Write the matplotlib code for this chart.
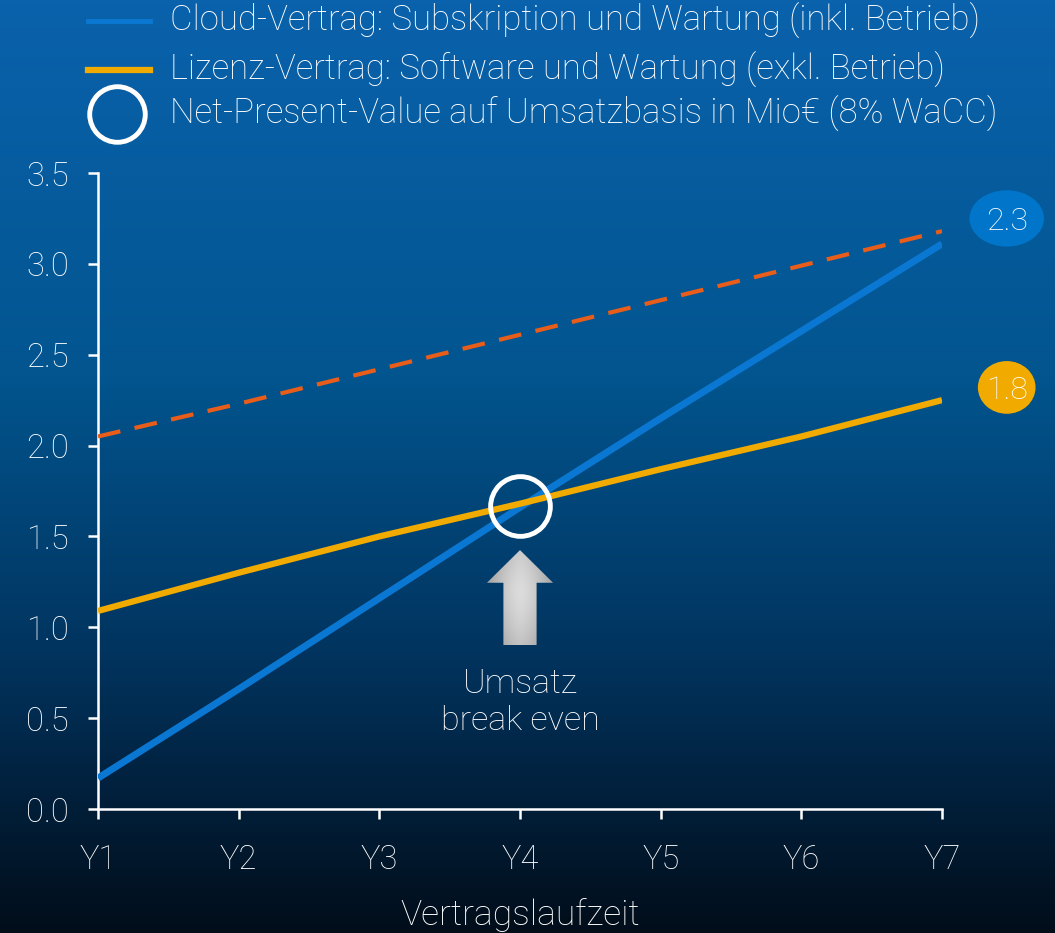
import numpy as np
import matplotlib.pyplot as plt
from matplotlib.colors import LinearSegmentedColormap
from matplotlib.lines import Line2D
from matplotlib.patches import Ellipse, Polygon

# --------------------------------------------------------------------------- #
# Data                                                                        #
# --------------------------------------------------------------------------- #
years = ["Y1", "Y2", "Y3", "Y4", "Y5", "Y6", "Y7"]
cloud = [0.17, 0.66, 1.16, 1.66, 2.15, 2.63, 3.11]
lizenz = [1.09, 1.30, 1.50, 1.68, 1.87, 2.05, 2.25]
lizenz_plus = [2.05, 2.23, 2.42, 2.61, 2.80, 2.99, 3.18]
npv_cloud = "2.3"
npv_lizenz = "1.8"
break_even = (3, 1.67)

legend_labels = [
    "Cloud-Vertrag: Subskription und Wartung (inkl. Betrieb)",
    "Lizenz-Vertrag: Software und Wartung (exkl. Betrieb)",
    "Net-Present-Value auf Umsatzbasis in Mio€ (8% WaCC)",
]

BLUE = "#0a78d2"
GOLD = "#f0aa00"
RED = "#e85d1a"
FONT = ["Roboto", "DejaVu Sans"]

W, H = 1055, 933
fig = plt.figure(figsize=(W / 100, H / 100), dpi=100)

# background gradient
bg = fig.add_axes([0, 0, 1, 1], zorder=0)
cmap = LinearSegmentedColormap.from_list(
    "bg", [(0, "#020d1a"), (0.3, "#01345f"), (0.6, "#02558f"), (1, "#0a62ac")]
)
grad = np.linspace(0, 1, 256).reshape(-1, 1)
bg.imshow(grad, aspect="auto", cmap=cmap, origin="lower", extent=[0, 1, 0, 1])
bg.set_xlim(0, 1)
bg.set_ylim(0, 1)
bg.axis("off")

ax = fig.add_axes([98 / W, 1 - 809 / H, 844 / W, 636 / H], zorder=1)
ax.patch.set_alpha(0)
x = np.arange(len(years))

ax.plot(x, lizenz_plus, color=RED, lw=3, dashes=(5.5, 3.5), zorder=3)
ax.plot(x, cloud, color=BLUE, lw=5, solid_capstyle="butt", zorder=4)
ax.plot(x, lizenz, color=GOLD, lw=4.5, solid_capstyle="butt", zorder=5)
ax.plot(*break_even, marker="o", ms=43, mfc="none", mec="white", mew=3.5, zorder=6)

# gradient arrow under the break-even point
bx, by = break_even
tip, head_base, tail = by - 0.245, by - 0.425, by - 0.77
hw, sw = 0.235, 0.118
arrow_pts = [(bx, tip), (bx + hw, head_base), (bx + sw, head_base), (bx + sw, tail),
             (bx - sw, tail), (bx - sw, head_base), (bx - hw, head_base)]
arrow = Polygon(arrow_pts, closed=True, facecolor="none", edgecolor="none")
ax.add_patch(arrow)
u = np.linspace(-1, 1, 100)
v = np.linspace(0, 1, 100)
U, V = np.meshgrid(u, v)
shade = 0.86 - 0.22 * np.abs(U) ** 1.5 - 0.25 * np.abs(V - 0.55) ** 1.5
img = ax.imshow(shade, cmap="gray", vmin=0, vmax=1, origin="lower", aspect="auto",
                extent=[bx - hw, bx + hw, tail, tip], zorder=2)
img.set_clip_path(arrow)

ax.text(bx, tail - 0.125, "Umsatz\nbreak even", ha="center", va="top", color="white",
        fontsize=24.5, family=FONT, fontweight="light", linespacing=1.2)

# NPV bubbles
ax.add_patch(Ellipse((6.46, 3.25), 0.53, 0.31, facecolor="#0075c9", edgecolor="none",
                     clip_on=False, zorder=6))
ax.text(6.46, 3.25, npv_cloud, ha="center", va="center_baseline", color="white",
        fontsize=23, family=FONT, fontweight="light", clip_on=False, zorder=7)
ax.add_patch(Ellipse((6.46, 2.32), 0.41, 0.29, facecolor=GOLD, edgecolor="none",
                     clip_on=False, zorder=6))
ax.text(6.46, 2.32, npv_lizenz, ha="center", va="center_baseline", color="white",
        fontsize=23, family=FONT, fontweight="light", clip_on=False, zorder=7)

ax.set_xlim(0, 6)
ax.set_ylim(0, 3.5)
ax.set_xticks(x)
ax.set_xticklabels(years)
ax.set_yticks(np.arange(0, 3.51, 0.5))
ax.set_yticklabels([f"{t:.1f}" for t in np.arange(0, 3.51, 0.5)])
for side in ("top", "right"):
    ax.spines[side].set_visible(False)
for side in ("left", "bottom"):
    ax.spines[side].set_color("white")
    ax.spines[side].set_linewidth(1.8)
ax.tick_params(axis="both", colors="white", width=1.8, length=7, labelsize=23.5)
ax.tick_params(axis="y", pad=14)
ax.tick_params(axis="x", pad=18)
for lab in ax.get_xticklabels() + ax.get_yticklabels():
    lab.set_family(FONT)
    lab.set_fontweight("light")
ax.set_xlabel("Vertragslaufzeit", color="white", fontsize=25.5, family=FONT,
              fontweight="light", labelpad=16)

# legend drawn by hand
rows = [21, 70, 114]
for i, (row, label) in enumerate(zip(rows, legend_labels)):
    yy = 1 - row / H
    if i == 0:
        bg.add_line(Line2D([88 / W, 150 / W], [yy, yy], color=BLUE, lw=3.5))
    elif i == 1:
        bg.add_line(Line2D([88 / W, 150 / W], [yy, yy], color=GOLD, lw=4.5))
    else:
        bg.add_line(Line2D([117 / W], [yy], marker="o", ms=40, mfc="none",
                           mec="white", mew=3.5))
    bg.text(170 / W, yy, label, ha="left", va="center", color="white",
            fontsize=25, family=FONT, fontweight="light")

fig.savefig("out.png", dpi=100)
